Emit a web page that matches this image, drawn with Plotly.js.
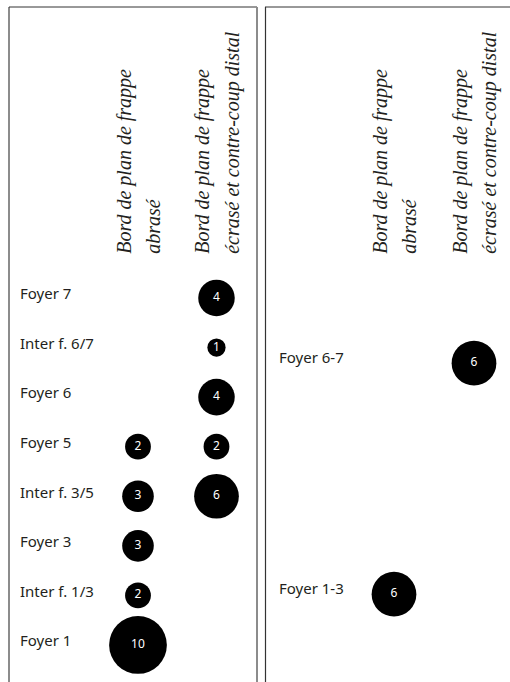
<!DOCTYPE html>
<html>
<head>
<meta charset="utf-8">
<script src="https://cdn.plot.ly/plotly-3.0.1.min.js"></script>
<style>
  html, body { margin: 0; padding: 0; background: #fff; }
  #chart { width: 510px; height: 682px; }
</style>
</head>
<body>
<div id="chart"></div>
<script>
// rows listed bottom to top
var leftRows = ['Foyer 1', 'Inter f. 1/3', 'Foyer 3', 'Inter f. 3/5', 'Foyer 5', 'Foyer 6', 'Inter f. 6/7', 'Foyer 7'];
var rightRows = ['Foyer 1-3', 'Foyer 6-7'];
var columns = ['abrasé', 'écrasé et contre-coup distal'];
var headers = ['Bord de plan de frappe<br>abrasé', 'Bord de plan de frappe<br>écrasé et contre-coup distal'];

// counts per row, one array per column (null = empty cell)
var leftAbrase = [10, 2, 3, 3, 2, null, null, null];
var leftEcrase = [null, null, null, 6, 2, 4, 1, 4];
var rightAbrase = [6, null];
var rightEcrase = [null, 6];

var W = 510, H = 682;

function cells(rows, cols) {
  var x = [], y = [], v = [];
  cols.forEach(function(vals, c) {
    vals.forEach(function(val, r) {
      if (val === null) return;
      x.push(columns[c]);
      y.push(rows[r]);
      v.push(val);
    });
  });
  return {x: x, y: y, v: v};
}

function bubbleTrace(d, xa, ya) {
  return {
    type: 'scatter',
    mode: 'markers+text',
    x: d.x,
    y: d.y,
    xaxis: xa,
    yaxis: ya,
    text: d.v.map(String),
    textposition: 'middle center',
    textfont: {family: 'Noto Sans', size: 12, color: '#ffffff'},
    marker: {size: d.v, sizemode: 'area', sizeref: 0.006, color: '#000000', opacity: 1, line: {width: 0}},
    cliponaxis: false,
    hoverinfo: 'none'
  };
}

var data = [
  bubbleTrace(cells(leftRows, [leftAbrase, leftEcrase]), 'x', 'y'),
  bubbleTrace(cells(rightRows, [rightAbrase, rightEcrase]), 'x2', 'y2')
];

var headerText = headers.map(function(h) {
  return h.split('<br>').map(function(line) {
    return '<span style="font-size:20px">' + line + '</span>';
  }).join('<br>');
});

function xAxis(domain, range, yname) {
  return {
    domain: domain,
    range: range,
    anchor: yname,
    side: 'top',
    type: 'category',
    categoryarray: columns,
    tickmode: 'array',
    tickvals: columns,
    ticktext: headerText,
    tickangle: -90,
    ticks: '',
    ticklabelstandoff: 18,
    tickfont: {family: 'Liberation Serif', size: 23, style: 'italic', color: '#231f20'},
    showgrid: false,
    zeroline: false,
    showline: false,
    fixedrange: true
  };
}

function yAxis(rows, range, xname, standoff, shift) {
  return {
    domain: [0, 0.6],
    range: range,
    anchor: xname,
    type: 'category',
    categoryarray: rows,
    ticklabelposition: 'inside',
    ticklabelstandoff: standoff,
    ticklabelshift: shift,
    ticks: '',
    tickfont: {family: 'Noto Sans', size: 15, color: '#231f20'},
    showgrid: false,
    zeroline: false,
    showline: false,
    fixedrange: true
  };
}

function vline(px, top, color, width) {
  return {type: 'line', xref: 'paper', yref: 'paper', x0: px / W, x1: px / W, y0: 0, y1: 1 - top / H,
    line: {color: color, width: width}};
}
function hline(px0, px1, py, color, width) {
  return {type: 'line', xref: 'paper', yref: 'paper', x0: px0 / W, x1: px1 / W, y0: 1 - py / H, y1: 1 - py / H,
    line: {color: color, width: width}};
}

var layout = {
  width: W,
  height: H,
  margin: {l: 0, r: 0, t: 0, b: 0},
  paper_bgcolor: '#ffffff',
  plot_bgcolor: 'rgba(0,0,0,0)',
  showlegend: false,
  xaxis: xAxis([9 / W, 257 / W], [-1.643, 1.516], 'y'),
  yaxis: yAxis(leftRows, [-0.747, 7.508], 'x', 8, -4),
  xaxis2: xAxis([265 / W, 1], [-1.6125, 1.45], 'y2'),
  yaxis2: yAxis(rightRows, [-0.38, 1.391], 'x2', 11, -5),
  shapes: [
    vline(9, 7, '#8c8c8c', 2),
    hline(9, 257, 7, '#333333', 1),
    vline(257, 7, '#8c8c8c', 2),
    vline(265.5, 7, '#333333', 1.2),
    hline(265, 510, 7, '#333333', 1)
  ]
};

Plotly.newPlot('chart', data, layout, {displayModeBar: false, staticPlot: true});
</script>
</body>
</html>
